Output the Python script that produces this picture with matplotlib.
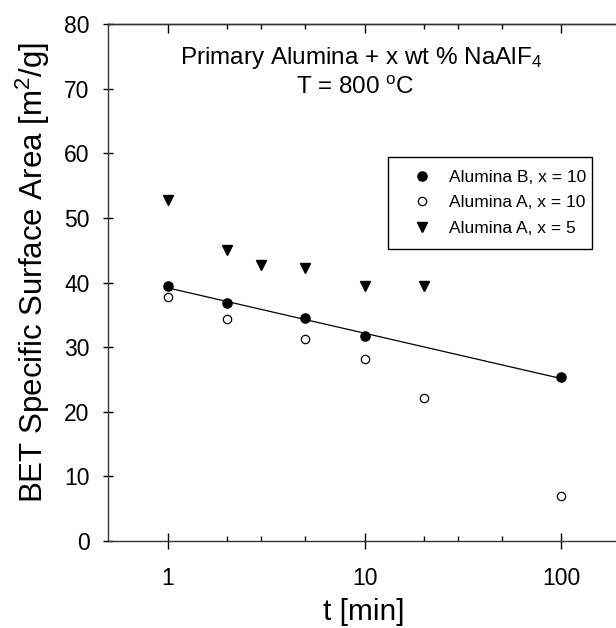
# %% Import modules
import numpy as np
import matplotlib
matplotlib.use('Agg')
import matplotlib.pyplot as plt
from matplotlib.ticker import FixedLocator, NullFormatter

plt.rcParams['font.family'] = ['Liberation Sans', 'DejaVu Sans']
plt.rcParams['mathtext.fontset'] = 'custom'
plt.rcParams['mathtext.rm'] = 'Liberation Sans'
plt.rcParams['mathtext.it'] = 'Liberation Sans'

# %% Data
t_b10 = [1, 2, 5, 10, 100]
s_b10 = [39.4, 36.9, 34.5, 31.7, 25.3]

t_a10 = [1, 2, 5, 10, 20, 100]
s_a10 = [37.7, 34.3, 31.3, 28.1, 22.2, 7.0]

t_a5 = [1, 2, 3, 5, 10, 20]
s_a5 = [52.8, 45.1, 42.7, 42.2, 39.5, 39.5]

labels = ['Alumina B, x = 10', 'Alumina A, x = 10', 'Alumina A, x = 5']

# %% Linear fit of Alumina B in log time
p = np.polyfit(np.log10(t_b10), s_b10, 1)
t_fit = np.array([min(t_b10), max(t_b10)])
s_fit = np.polyval(p, np.log10(t_fit))

# %% Plot
W, H = 616, 628
fig = plt.figure(figsize=(W / 100, H / 100), dpi=100)
ax = fig.add_axes([108.2 / W, 1 - 541 / H, 512.6 / W, 517 / H])

ax.plot(t_fit, s_fit, 'k-', lw=0.9)
ax.plot(t_b10, s_b10, 'o', color='black', ms=6.6, ls='none', label=labels[0])
ax.plot(t_a10, s_a10, 'o', mfc='white', mec='black', mew=0.9, ms=6.0,
        ls='none', label=labels[1])
ax.plot(t_a5, s_a5, 'v', color='black', ms=6.6, ls='none', label=labels[2])

ax.set_xscale('log')
ax.set_xlim(0.5, 200)
ax.set_ylim(0, 80)
ax.set_yticks(np.arange(0, 81, 10))
ax.xaxis.set_major_locator(FixedLocator([1, 10, 100]))
ax.xaxis.set_minor_locator(FixedLocator([2, 3, 5, 20, 30, 50]))
ax.xaxis.set_minor_formatter(NullFormatter())
ax.set_xticklabels(['1', '10', '100'])

for s in ['left', 'bottom', 'top']:
    ax.spines[s].set_linewidth(1.0)
    ax.spines[s].set_color('#333333')
ax.spines['right'].set_visible(False)

ax.tick_params(axis='y', which='major', direction='inout', length=7.5,
               width=1.0, pad=9.8, labelsize=16.5, right=False)
ax.tick_params(axis='x', which='major', direction='inout', length=11,
               width=1.0, pad=13, labelsize=16.5, top=False)
ax.tick_params(axis='x', which='minor', direction='in', length=3.5,
               width=1.0, top=False)

# top axis ticks (inward)
sec = ax.secondary_xaxis('top')
sec.xaxis.set_major_locator(FixedLocator([1, 10, 100]))
sec.xaxis.set_minor_locator(FixedLocator([2, 3, 5, 20, 30, 50]))
sec.tick_params(which='major', direction='in', length=6.5, width=1.0,
                labeltop=False)
sec.tick_params(which='minor', direction='in', length=3.5, width=1.0)
sec.xaxis.set_minor_formatter(NullFormatter())
sec.spines['top'].set_linewidth(1.0)
sec.spines['top'].set_color('#333333')

fig.text(43 / W, 1 - 272 / H, 'BET Specific Surface Area [m$^2$/g]',
         rotation=90, rotation_mode='anchor', ha='center', va='baseline',
         fontsize=22.5)
fig.text(364 / W, 1 - 612 / H, 't [min]', ha='center', va='center',
         fontsize=21.5)

fig.text(361 / W, 1 - 64 / H, 'Primary Alumina + x wt % NaAlF$_4$',
         ha='center', va='baseline', fontsize=17.5)
fig.text(355 / W, 1 - 94 / H, 'T = 800 $^{\\mathrm{o}}$C',
         ha='center', va='baseline', fontsize=17.5)

leg = ax.legend(loc='upper left',
                bbox_to_anchor=(388 / W, 1 - 246 / H, 204 / W, 89 / H),
                bbox_transform=fig.transFigure, mode='expand', fontsize=12.5,
                frameon=True, fancybox=False, edgecolor='black', framealpha=1,
                handlelength=2.41, handletextpad=0.35, borderpad=0.75,
                labelspacing=0.58, borderaxespad=0)
leg.get_frame().set_linewidth(1.0)

fig.savefig('out.png', dpi=100)
